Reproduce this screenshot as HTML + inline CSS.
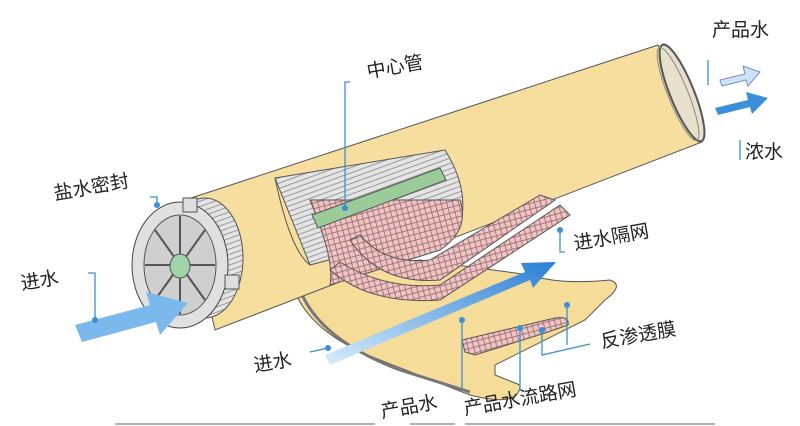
<!DOCTYPE html>
<html><head><meta charset="utf-8"><style>
html,body{margin:0;padding:0;background:#fff;width:800px;height:426px;overflow:hidden}
text{font-family:"Liberation Sans","Noto Sans CJK SC",sans-serif;font-size:19px;fill:#222}
</style></head><body>
<svg width="800" height="426" viewBox="0 0 800 426" xmlns="http://www.w3.org/2000/svg">
<defs>
<pattern id="mesh" width="8" height="8" patternUnits="userSpaceOnUse" patternTransform="rotate(30)">
<rect width="8" height="8" fill="#eec4c4"/><path d="M0 0L8 8M8 0L0 8" stroke="#9a6a6a" stroke-width="0.8"/></pattern>
<pattern id="gmesh" width="5" height="5" patternUnits="userSpaceOnUse" patternTransform="rotate(-20)">
<rect width="5" height="5" fill="#e4e4e4"/><path d="M0 2.5H5" stroke="#777" stroke-width="0.7"/></pattern>
<linearGradient id="bl" x1="0" y1="1" x2="1" y2="0"><stop offset="0" stop-color="#d8ecfb"/><stop offset="1" stop-color="#2a7fd4"/></linearGradient>
</defs>
<!-- flat sheet -->
<path d="M290 275 Q300 330 380 360 L470 395 Q520 408 520 385 L495 375 L495 365 L585 320 L605 300 Q625 285 610 280 Q560 285 530 275 L420 260 Z" fill="#f5dc98" stroke="#555" stroke-width="1"/>
<path d="M462 340 L555 318 Q570 316 568 325 L545 333 L475 355 L465 352 Z" fill="url(#mesh)" stroke="#555"/>
<path d="M300 290 Q320 340 400 370 L470 392" fill="none" stroke="#777" stroke-width="3"/>
<!-- cylinder body -->
<path d="M185 200 L658 45 L702 142 L215 330 Z" fill="#f6df9e" stroke="#555" stroke-width="1"/>
<ellipse cx="682" cy="93" rx="12" ry="52" transform="rotate(-22 682 93)" fill="#e6e0cc" stroke="#555" stroke-width="2"/>
<ellipse cx="678" cy="94" rx="10" ry="50" transform="rotate(-22 678 94)" fill="none" stroke="#888"/>
<!-- cutaway -->
<path d="M275 178 L445 150 Q470 190 460 225 L310 265 Z" fill="url(#gmesh)" stroke="#555"/>
<path d="M310 200 Q335 260 330 285 L440 250 Q470 230 460 200 Z" fill="url(#mesh)" stroke="#555"/>
<path d="M312 215 L440 168 L446 180 L318 228 Z" fill="#9ccb9a" stroke="#555"/>
<path d="M350 240 Q380 285 440 280 L555 200 L540 195 L430 260 Q385 265 360 235 Z" fill="url(#mesh)" stroke="#555"/>
<path d="M330 270 Q370 305 440 300 L570 215 L560 205 L440 285 Q385 290 340 262 Z" fill="url(#mesh)" stroke="#555"/>
<path d="M310 265 Q290 250 275 178" fill="none" stroke="#555"/>
<!-- left cap -->
<ellipse cx="205" cy="258" rx="38" ry="60" fill="url(#gmesh)" stroke="#555"/>
<ellipse cx="180" cy="265" rx="48" ry="63" fill="#e0e0e0" stroke="#444"/>
<ellipse cx="180" cy="265" rx="36" ry="50" fill="#cfcfcf" stroke="#555"/>
<g stroke="#555" stroke-width="2">
<line x1="180" y1="265" x2="180" y2="216"/><line x1="180" y1="265" x2="180" y2="314"/>
<line x1="180" y1="265" x2="145" y2="265"/><line x1="180" y1="265" x2="215" y2="265"/>
<line x1="180" y1="265" x2="155" y2="230"/><line x1="180" y1="265" x2="205" y2="230"/>
<line x1="180" y1="265" x2="155" y2="300"/><line x1="180" y1="265" x2="205" y2="300"/>
</g>
<ellipse cx="180" cy="266" rx="10" ry="12" fill="#9fd3a8" stroke="#555"/>
<rect x="183" y="198" width="14" height="14" fill="#ddd" stroke="#555"/>
<rect x="225" y="275" width="14" height="14" fill="#ddd" stroke="#555"/>
<!-- arrows -->
<path d="M75 325 L150 305 L146 292 L188 303 L160 335 L156 322 L82 342 Z" fill="#7ab8ee"/>
<path d="M325 355 L525 272 L521 263 L556 262 L533 288 L530 280 L330 365 Z" fill="url(#bl)"/>
<path d="M720 80 L745 74 L743 66 L760 72 L748 86 L746 80 L722 86 Z" fill="#c8e4f8" stroke="#88b"/>
<path d="M715 108 L748 100 L746 92 L768 98 L752 114 L750 107 L718 115 Z" fill="#3a8fd8"/>
<!-- leader lines -->
<g stroke="#3a8fd8" stroke-width="1.3" fill="none">
<path d="M350 82 L345 82 L345 208"/><path d="M150 197 L157 197 L157 205"/>
<path d="M88 273 L95 273 L95 320"/><path d="M560 230 L560 252 L565 252"/>
<path d="M310 352 L328 348"/><path d="M462 320 L462 388"/>
<path d="M520 328 L520 390"/><path d="M542 330 L542 355 L590 344"/><path d="M567 305 L567 345"/>
<path d="M708 85 L708 60"/><path d="M740 140 L740 160"/>
</g>
<g fill="#3a8fd8"><circle cx="345" cy="208" r="3"/><circle cx="157" cy="205" r="3"/><circle cx="95" cy="320" r="3"/><circle cx="560" cy="230" r="3"/><circle cx="328" cy="348" r="3"/><circle cx="462" cy="320" r="3"/><circle cx="520" cy="328" r="3"/><circle cx="542" cy="330" r="3"/><circle cx="567" cy="305" r="3"/></g>
<!-- labels -->
<text x="712" y="36">产品水</text>
<text x="745" y="158">浓水</text>
<text x="368" y="78" transform="rotate(-10 368 78)">中心管</text>
<text x="55" y="200" transform="rotate(-10 55 200)">盐水密封</text>
<text x="575" y="250" transform="rotate(-10 575 250)">进水隔网</text>
<text x="22" y="290" transform="rotate(-10 22 290)">进水</text>
<text x="602" y="348" transform="rotate(-10 602 348)">反渗透膜</text>
<text x="255" y="372" transform="rotate(-10 255 372)">进水</text>
<text x="382" y="418" transform="rotate(-10 382 418)">产品水</text>
<text x="465" y="415" transform="rotate(-10 465 415)">产品水流路网</text>
<g stroke="#999" stroke-width="1.5"><line x1="115" y1="424" x2="375" y2="424"/><line x1="410" y1="424" x2="455" y2="424"/><line x1="465" y1="424" x2="715" y2="424"/></g>
</svg>
</body></html>
